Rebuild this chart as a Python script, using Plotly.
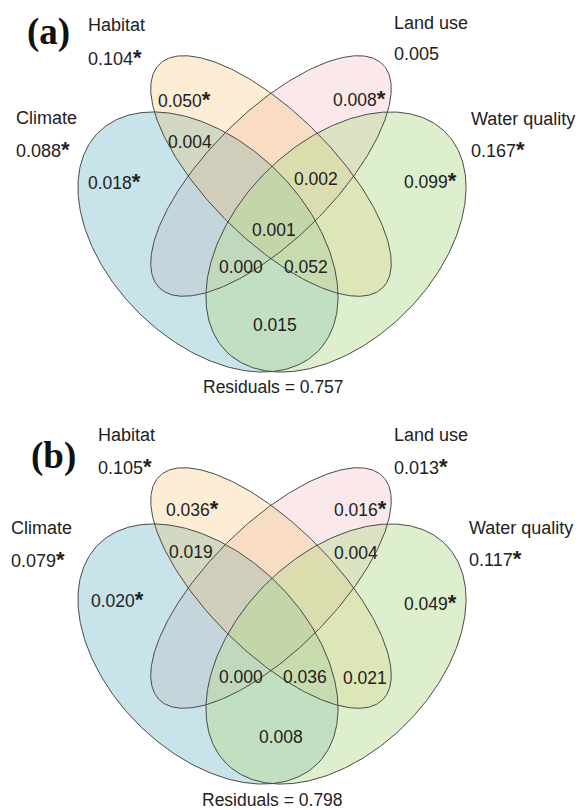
import numpy as np
import plotly.graph_objects as go

# ---------------- data ----------------
set_names = ["Habitat", "Land use", "Climate", "Water quality"]
set_keys = ["H", "L", "C", "W"]
panel_tags = ["(a)", "(b)"]
set_totals_a = ["0.104*", "0.005", "0.088*", "0.167*"]
set_totals_b = ["0.105*", "0.013*", "0.079*", "0.117*"]
region_keys_a = ["H", "L", "C", "W", "CH", "HLW", "CHLW", "CLW", "CHW", "CW"]
region_values_a = ["0.050*", "0.008*", "0.018*", "0.099*", "0.004", "0.002", "0.001", "0.000", "0.052", "0.015"]
region_keys_b = ["H", "L", "C", "W", "CH", "LW", "CLW", "CHW", "HW", "CW"]
region_values_b = ["0.036*", "0.016*", "0.020*", "0.049*", "0.019", "0.004", "0.000", "0.036", "0.021", "0.008"]
residuals = ["0.757", "0.798"]

# ---------------- layout / geometry (pixel space) ----------------
W, Hh = 585, 810
panel_dy = [0, 412]
# ellipse: center x, center y, semi-major, semi-minor, angle (deg, screen coords)
ellipses = {
    "C": (208, 242, 155, 99, 45),
    "W": (336, 242, 155, 99, 135),
    "H": (271, 176, 158, 63, 45),
    "L": (271, 176, 158, 63, 135),
}
draw_order = ["L", "C", "H", "W"]
fills = {
    "L": "rgba(242,178,185,0.30)",
    "C": "rgba(118,185,200,0.40)",
    "H": "rgba(243,183,83,0.25)",
    "W": "rgba(186,222,152,0.48)",
}
edge_color = "#4a4a4a"

name_pos = [
    {"H": (87, 25), "L": (393, 23), "C": (15, 118), "W": (470, 119)},
    {"H": (97, 435), "L": (393, 435), "C": (10, 528), "W": (468, 528)},
]
total_pos = [
    {"H": (87, 57), "L": (393, 54), "C": (15, 149), "W": (470, 149)},
    {"H": (97, 466), "L": (393, 466), "C": (10, 559), "W": (468, 558)},
]
region_pos = [
    {"H": (157, 99), "L": (332, 98), "C": (87, 181), "W": (403, 180), "CH": (167, 142),
     "HLW": (293, 179), "CHLW": (251, 230), "CLW": (218, 267), "CHW": (283, 267), "CW": (252, 325)},
    {"H": (165, 508), "L": (333, 508), "C": (90, 599), "W": (403, 602), "CH": (168, 552),
     "LW": (333, 553), "CLW": (218, 677), "CHW": (282, 677), "HW": (342, 678), "CW": (258, 737)},
]
tag_pos = [(48, 32), (53, 456)]
resid_pos = [(273, 387), (272, 800)]

FONT = "Liberation Sans, Arial, sans-serif"
TXT = "#222222"
FS = 17.5


def star(s):
    return s.replace("*", '<span style="font-size:22px"><b>*</b></span>')


def ellipse_xy(key, dy):
    cx, cy, a, b, ang = ellipses[key]
    t = np.linspace(0, 2 * np.pi, 361)
    th = np.deg2rad(ang)
    xs = cx + a * np.cos(t) * np.cos(th) - b * np.sin(t) * np.sin(th)
    ys = cy + dy + a * np.cos(t) * np.sin(th) + b * np.sin(t) * np.cos(th)
    return xs, ys


fig = go.Figure()
for p in range(2):
    dy = panel_dy[p]
    for k in draw_order:
        xs, ys = ellipse_xy(k, dy)
        fig.add_trace(go.Scatter(x=xs, y=ys, mode="lines", fill="toself",
                                 fillcolor=fills[k], line=dict(width=0),
                                 hoverinfo="skip", showlegend=False))
    for k in draw_order:
        xs, ys = ellipse_xy(k, dy)
        fig.add_trace(go.Scatter(x=xs, y=ys, mode="lines",
                                 line=dict(color=edge_color, width=1),
                                 hoverinfo="skip", showlegend=False))

ann = []
for p in range(2):
    totals = set_totals_a if p == 0 else set_totals_b
    rkeys = region_keys_a if p == 0 else region_keys_b
    rvals = region_values_a if p == 0 else region_values_b
    for nm, key, tot in zip(set_names, set_keys, totals):
        x, y = name_pos[p][key]
        ann.append(dict(x=x, y=y, text=nm, xanchor="left", yanchor="middle",
                        font=dict(size=18, family=FONT, color=TXT)))
        x, y = total_pos[p][key]
        ann.append(dict(x=x, y=y, text=star(tot), xanchor="left", yanchor="middle",
                        font=dict(size=18, family=FONT, color=TXT)))
    for key, val in zip(rkeys, rvals):
        x, y = region_pos[p][key]
        ann.append(dict(x=x, y=y, text=star(val), xanchor="left", yanchor="middle",
                        font=dict(size=FS, family=FONT, color=TXT)))
    x, y = tag_pos[p]
    ann.append(dict(x=x, y=y, text="<b>" + panel_tags[p] + "</b>", xanchor="center", yanchor="middle",
                    font=dict(size=37, family="Liberation Serif, Times New Roman, serif", color="#111111")))
    x, y = resid_pos[p]
    ann.append(dict(x=x, y=y, text="Residuals = " + residuals[p], xanchor="center", yanchor="middle",
                    font=dict(size=FS, family=FONT, color=TXT)))

for a_ in ann:
    a_.update(xref="x", yref="y", showarrow=False, borderpad=0)

fig.update_layout(
    width=W, height=Hh, margin=dict(l=0, r=0, t=0, b=0),
    paper_bgcolor="white", plot_bgcolor="white",
    xaxis=dict(range=[0, W], visible=False, fixedrange=True),
    yaxis=dict(range=[Hh, 0], visible=False, fixedrange=True),
    annotations=ann, showlegend=False,
)
fig.write_html("out.html", config={"displayModeBar": False},
               post_script="document.body.style.margin='0';document.body.style.overflow='hidden';")
